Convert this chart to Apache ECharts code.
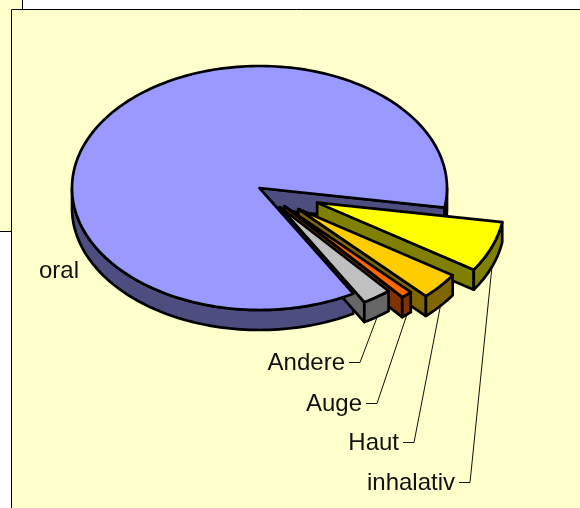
<!DOCTYPE html>
<html><head><meta charset="utf-8">
<style>html,body{margin:0;padding:0;background:#fff}#c{width:580px;height:508px}</style>
<script src="https://cdn.jsdelivr.net/npm/echarts@6/dist/echarts.min.js"></script>
</head><body><div id="c"></div>
<script>
const categories = ['oral', 'inhalativ', 'Haut', 'Auge', 'Andere'];
const shares = [85.9, 6.7, 3.6, 1.0, 2.8];
const explode = [0, 0.33, 0.27, 0.2, 0.19];
const radiusScale = [1, 1, 0.985, 0.975, 0.9];
const topColors = ['#9999FF', '#FFFF00', '#FFCC00', '#FF6600', '#C0C0C0'];
const wallColors = ['#4D4D80', '#808000', '#806600', '#803300', '#666666'];

const labelRight = [79, 455, 399, 362, 345];
const labelY = [270, 482, 442, 403, 362];
const CX = 259.5, CY = 188, RX = 187.5, RY = 122, DEPTH = 20, START = 60;

const total = shares.reduce((a, b) => a + b, 0);
let cursor = START;
const slices = shares.map((v, i) => {
  const a = cursor, b = cursor + v / total * 360; cursor = b;
  const m = (a + b) / 2 * Math.PI / 180;
  return { a, b, k: radiusScale[i], ox: CX + explode[i] * RX * Math.cos(m), oy: CY + explode[i] * RY * Math.sin(m) };
});
const pt = (s, deg, d) => {
  const r = deg * Math.PI / 180;
  return [s.ox + s.k * RX * Math.cos(r), s.oy + s.k * RY * Math.sin(r) + (d || 0)];
};
const arc = (s, a, b, d) => {
  const out = [], n = Math.max(2, Math.ceil((b - a) / 1.5));
  for (let k = 0; k <= n; k++) out.push(pt(s, a + (b - a) * k / n, d));
  return out;
};
const line = { stroke: '#000', lineWidth: 2.7, lineJoin: 'round' };
const poly = (points, fill) => ({ type: 'polygon', shape: { points }, style: Object.assign({ fill }, line) });

function wallParts(i) {
  const s = slices[i], kids = [];
  const apex = [s.ox, s.oy];
  const e = pt(s, s.b);
  kids.push(poly([apex, e, [e[0], e[1] + DEPTH], [apex[0], apex[1] + DEPTH]], wallColors[i]));
  [[0, 180], [360, 540]].forEach(([lo, hi]) => {
    const a = Math.max(s.a, lo), b = Math.min(s.b, hi);
    if (b > a) kids.push(poly(arc(s, a, b, 0).concat(arc(s, a, b, DEPTH).reverse()), wallColors[i]));
  });
  return kids;
}
function topFace(i) {
  const s = slices[i];
  return [poly([[s.ox, s.oy]].concat(arc(s, s.a, s.b, 0)), topColors[i])];
}
function labelParts(i) {
  const kids = [{
    type: 'text',
    style: { text: categories[i], x: labelRight[i], y: labelY[i] + 1, align: 'right', verticalAlign: 'middle',
             fill: '#111', font: '24px "Liberation Sans", Arial, sans-serif' }
  }];
  if (i > 0) {
    const s = slices[i], end = pt(s, (s.a + s.b) / 2, DEPTH + 1);
    const y = labelY[i] + 0.5;
    kids.push({ type: 'polyline',
      shape: { points: [[labelRight[i] + 4, y], [labelRight[i] + 15, y], end] },
      style: { stroke: '#111', lineWidth: 1, fill: null } });
  }
  return kids;
}
// paint order: [slice, part] with part 0 = walls, 1 = top, 2 = label and leader
const paintOrder = [[0,0],[1,0],[1,1],[2,0],[2,1],[3,0],[3,1],[4,0],[0,1],[4,1],[0,2],[1,2],[2,2],[3,2],[4,2]];

const chart = echarts.init(document.getElementById('c'), null, { renderer: 'canvas' });
chart.setOption({
  animation: false,
  backgroundColor: '#fff',
  graphic: [
    { type: 'rect', z: -2, shape: { x: -2, y: -2, width: 24.5, height: 233.5 }, style: { fill: '#FFFFCC', stroke: '#000', lineWidth: 1 } },
    { type: 'rect', z: -1, shape: { x: 11.5, y: 9.5, width: 580, height: 510 }, style: { fill: '#FFFFCC', stroke: '#000', lineWidth: 1 } }
  ],
  series: [{
    type: 'custom',
    coordinateSystem: 'none',
    data: paintOrder,
    renderItem: (params, api) => {
      const i = api.value(0), part = api.value(1);
      const children = part === 0 ? wallParts(i) : part === 1 ? topFace(i) : labelParts(i);
      return { type: 'group', children };
    }
  }]
});
</script></body></html>
